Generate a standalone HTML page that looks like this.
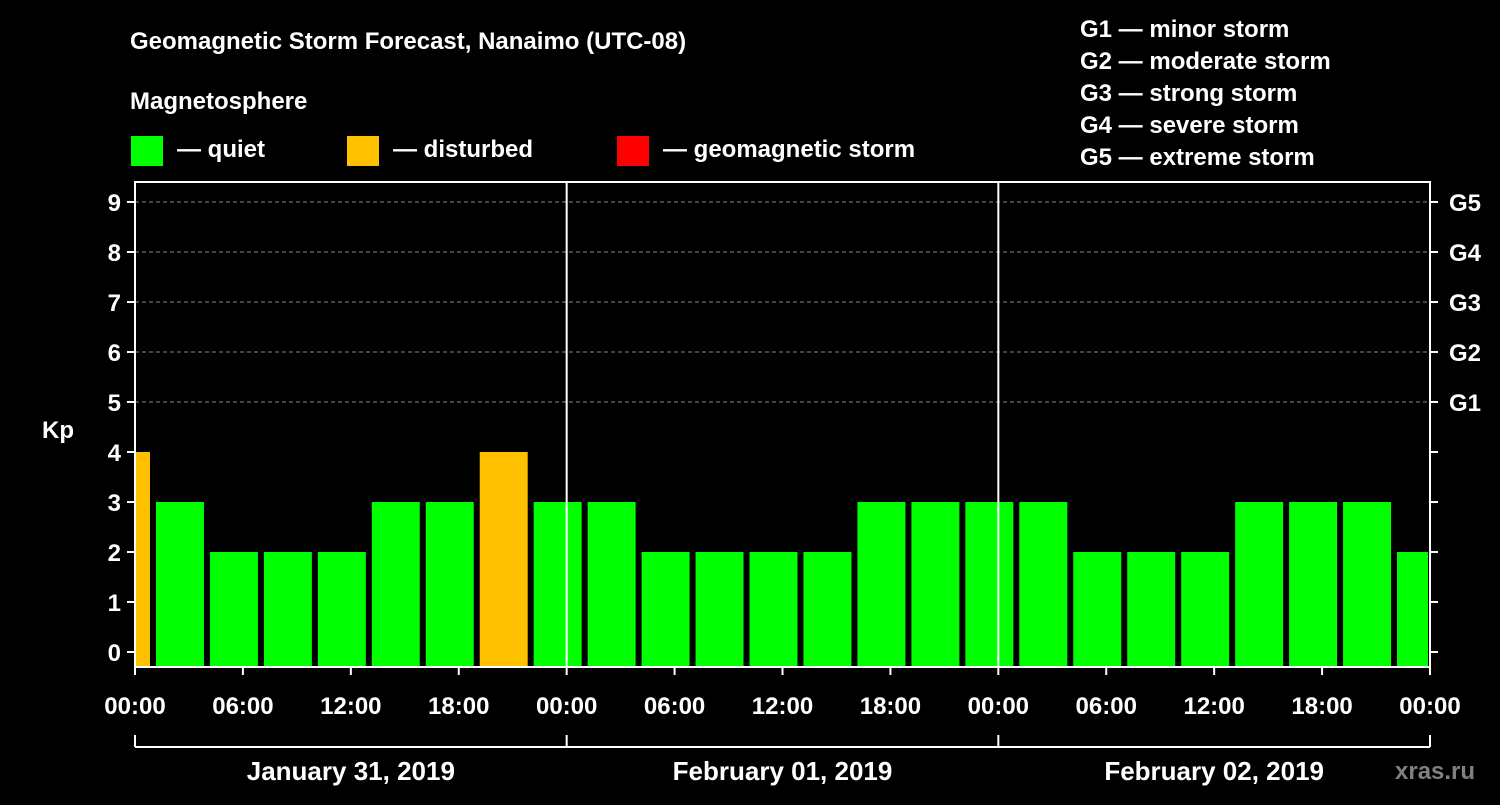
<!DOCTYPE html>
<html><head><meta charset="utf-8"><style>
body{margin:0;background:#000;width:1500px;height:800px;overflow:hidden;font-family:"Liberation Sans",Arial,sans-serif}
text{font-family:"Liberation Sans",Arial,sans-serif;font-weight:bold;fill:#fff}
</style></head><body>
<svg id="chart" width="1500" height="800">
<text x="130" y="49" font-size="24">Geomagnetic Storm Forecast, Nanaimo (UTC-08)</text>
<text x="130" y="109" font-size="24">Magnetosphere</text>
<rect x="131" y="136" width="32" height="30" fill="#00ff00"/>
<text x="177" y="157" font-size="24">— quiet</text>
<rect x="347" y="136" width="32" height="30" fill="#ffc000"/>
<text x="393" y="157" font-size="24">— disturbed</text>
<rect x="617" y="136" width="32" height="30" fill="#ff0000"/>
<text x="663" y="157" font-size="24">— geomagnetic storm</text>
<g font-size="24">
<text x="1080" y="37">G1 — minor storm</text>
<text x="1080" y="69">G2 — moderate storm</text>
<text x="1080" y="101">G3 — strong storm</text>
<text x="1080" y="133">G4 — severe storm</text>
<text x="1080" y="165">G5 — extreme storm</text>
</g>
<text x="42" y="438" font-size="24">Kp</text>
<text x="1395" y="779" font-size="24" style="fill:#808080">xras.ru</text>
<g id="plot"></g>
</svg>
<script>
const kpValues=[4,3,2,2,2,3,3,4,3,3,2,2,2,2,3,3,3,3,2,2,2,3,3,3,2];
const yTicks=[0,1,2,3,4,5,6,7,8,9];
const gLabels=["G1","G2","G3","G4","G5"];
const xTickLabels=["00:00","06:00","12:00","18:00","00:00","06:00","12:00","18:00","00:00","06:00","12:00","18:00","00:00"];
const dayLabels=["January 31, 2019","February 01, 2019","February 02, 2019"];
const X0=135,X1=1430,PT=182,PB=667;
const xs=h=>X0+h*(X1-X0)/72;
const ys=k=>652-50*k;
const NS="http://www.w3.org/2000/svg";
const g=document.getElementById('plot');
function mk(t,a){const e=document.createElementNS(NS,t);for(const k in a)e.setAttribute(k,a[k]);g.appendChild(e);return e;}
// grid
for(let k=5;k<=9;k++){const l=mk('line',{x1:X0,x2:X1,y1:ys(k),y2:ys(k),stroke:'#888','stroke-dasharray':'4,3','stroke-width':1});

}
// bars
kpValues.forEach((v,i)=>{const s=-2+3*i;let a=xs(s)+3,b=xs(s+3)-3;a=Math.max(a,X0);b=Math.min(b,X1-2);
const r=mk('rect',{x:a,y:ys(v),width:b-a,height:PB-ys(v),fill:v>=5?'#ff0000':(v>=4?'#ffc000':'#00ff00')});

});
// day dividers
[24,48].forEach(h=>{const l=mk('line',{x1:xs(h),x2:xs(h),y1:PT,y2:PB,stroke:'#fff','stroke-width':2});

});
// frame
const f=mk('rect',{x:X0,y:PT,width:X1-X0,height:PB-PT,fill:'none',stroke:'#fff','stroke-width':2});


// y ticks
yTicks.forEach(k=>{mk('line',{x1:X0-8,x2:X0,y1:ys(k),y2:ys(k),stroke:'#fff','stroke-width':2});
mk('line',{x1:X1,x2:X1+8,y1:ys(k),y2:ys(k),stroke:'#fff','stroke-width':2});
const t=mk('text',{x:X0-14,y:ys(k)+9,'text-anchor':'end','font-size':24});t.textContent=k;

});
gLabels.forEach((s,i)=>{const t=mk('text',{x:1449,y:ys(5+i)+9,'font-size':24});t.textContent=s;

});
// x ticks
xTickLabels.forEach((s,i)=>{const x=xs(6*i);mk('line',{x1:x,x2:x,y1:PB,y2:PB+8,stroke:'#fff','stroke-width':2});
const t=mk('text',{x:x,y:714,'text-anchor':'middle','font-size':24});t.textContent=s;

});
// day bracket
mk('line',{x1:X0,x2:X1,y1:747,y2:747,stroke:'#fff','stroke-width':2});
[0,24,48,72].forEach(h=>mk('line',{x1:xs(h),x2:xs(h),y1:735,y2:747,stroke:'#fff','stroke-width':2}));
dayLabels.forEach((s,i)=>{const t=mk('text',{x:xs(24*i+12),y:780,'text-anchor':'middle','font-size':26});t.textContent=s;

});
</script>
</body></html>
